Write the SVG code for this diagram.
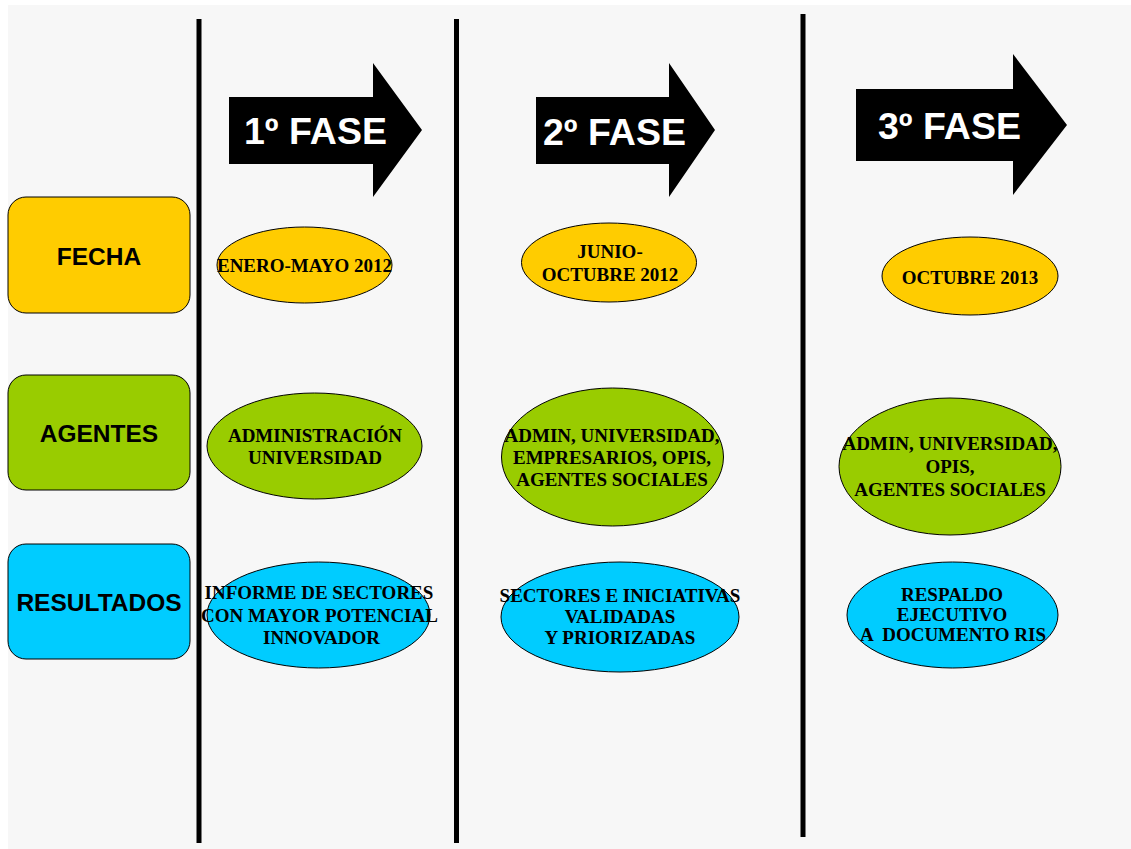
<svg xmlns="http://www.w3.org/2000/svg" width="1131" height="849" viewBox="0 0 1131 849">
<style>
.lbl{font-family:"Liberation Sans",Arial,sans-serif;font-weight:bold;font-size:24.5px;fill:#000;text-anchor:middle}
.fase{font-family:"Liberation Sans",Arial,sans-serif;font-weight:bold;font-size:37.5px;fill:#fff}
.t{font-family:"Liberation Serif","Times New Roman",serif;font-weight:bold;font-size:19px;fill:#000;text-anchor:middle}
.box{stroke:#000;stroke-width:1}
.ell{stroke:#000;stroke-width:1}
.y{fill:#ffcc00}.g{fill:#99cc00}.b{fill:#00ccff}
.vl{stroke:#000;stroke-width:5}
</style>
<rect x="0" y="0" width="1131" height="849" fill="#ffffff"/>
<rect x="8" y="5" width="1123" height="844" fill="#f7f7f7"/>
<g id="dividers">
<line class="vl" x1="199" y1="19" x2="199" y2="843"/>
<line class="vl" x1="456.5" y1="19" x2="456.5" y2="843"/>
<line class="vl" x1="803" y1="14" x2="803" y2="837"/>
</g>
<g id="fase1">
<polygon points="229,97 373,97 373,63 422,130 373,197 373,164 229,164" fill="#000"/>
<text class="fase" x="244" y="144">1º FASE</text>
</g>
<g id="fase2">
<polygon points="536,97 669,97 669,63 715,130 669,197 669,164 536,164" fill="#000"/>
<text class="fase" x="543" y="145">2º FASE</text>
</g>
<g id="fase3">
<polygon points="856,89 1013,89 1013,54 1067,125 1013,195 1013,161 856,161" fill="#000"/>
<text class="fase" x="878" y="139">3º FASE</text>
</g>
<g id="fecha">
<rect class="box y" x="8" y="197" width="182" height="116" rx="18"/>
<text class="lbl" x="99" y="265">FECHA</text>
</g>
<g id="agentes">
<rect class="box g" x="8" y="375" width="182" height="115" rx="18"/>
<text class="lbl" x="99" y="442">AGENTES</text>
</g>
<g id="resultados">
<rect class="box b" x="8" y="544" width="182" height="115" rx="18"/>
<text class="lbl" x="99" y="611">RESULTADOS</text>
</g>
<g id="fecha1">
<ellipse class="ell y" cx="304.5" cy="265" rx="87.5" ry="38"/>
<text class="t" x="304.5" y="272">ENERO-MAYO 2012</text>
</g>
<g id="fecha2">
<ellipse class="ell y" cx="609" cy="262.5" rx="87.5" ry="39.5"/>
<text class="t" x="610" y="258">JUNIO-</text>
<text class="t" x="610" y="281">OCTUBRE 2012</text>
</g>
<g id="fecha3">
<ellipse class="ell y" cx="970" cy="276" rx="88" ry="39"/>
<text class="t" x="970" y="284">OCTUBRE 2013</text>
</g>
<g id="agentes1">
<ellipse class="ell g" cx="314.5" cy="446" rx="107.5" ry="53"/>
<text class="t" x="315" y="442">ADMINISTRACIÓN</text>
<text class="t" x="315" y="464">UNIVERSIDAD</text>
</g>
<g id="agentes2">
<ellipse class="ell g" cx="612.5" cy="457" rx="111" ry="69"/>
<text class="t" x="612" y="442">ADMIN, UNIVERSIDAD,</text>
<text class="t" x="612" y="464">EMPRESARIOS, OPIS,</text>
<text class="t" x="612" y="486">AGENTES SOCIALES</text>
</g>
<g id="agentes3">
<ellipse class="ell g" cx="950" cy="466.5" rx="111" ry="68.5"/>
<text class="t" x="950" y="450">ADMIN, UNIVERSIDAD,</text>
<text class="t" x="950" y="473">OPIS,</text>
<text class="t" x="950" y="496">AGENTES SOCIALES</text>
</g>
<g id="resultados1">
<ellipse class="ell b" cx="318.5" cy="615" rx="111.5" ry="53"/>
<text class="t" x="319" y="599">INFORME DE SECTORES</text>
<text class="t" x="319.5" y="622">CON MAYOR POTENCIAL</text>
<text class="t" x="321.5" y="644">INNOVADOR</text>
</g>
<g id="resultados2">
<ellipse class="ell b" cx="620" cy="617" rx="119" ry="55"/>
<text class="t" x="620" y="602">SECTORES E INICIATIVAS</text>
<text class="t" x="620" y="623">VALIDADAS</text>
<text class="t" x="620" y="644">Y PRIORIZADAS</text>
</g>
<g id="resultados3">
<ellipse class="ell b" cx="952.5" cy="615" rx="105.5" ry="53"/>
<text class="t" x="952" y="601">RESPALDO</text>
<text class="t" x="952" y="621">EJECUTIVO</text>
<text class="t" x="953" y="641" xml:space="preserve">A  DOCUMENTO RIS</text>
</g>
</svg>
